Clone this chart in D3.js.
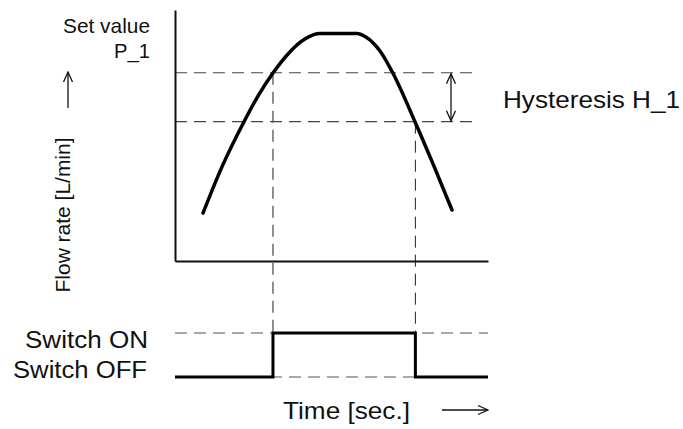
<!DOCTYPE html>
<html>
<head>
<meta charset="utf-8">
<script src="https://cdn.jsdelivr.net/npm/d3@7"></script>
<style>
  body { margin: 0; background: #fff; }
  text { font-family: "Liberation Sans", Arial, sans-serif; fill: #111; }
</style>
</head>
<body>
<div id="chart"></div>
<script>
// flow curve (time in %, flow in %)
var curveTime = [8.95, 15.0, 22.0, 26.5, 31.3, 36.7, 41.5, 46.3, 58.2, 60.7, 63.3, 65.5, 69.6, 76.7, 82.7, 88.5];
var curveFlow = [19.1, 37.5, 55.4, 65.7, 74.9, 83.3, 88.4, 90.6, 90.6, 89.4, 86.9, 83.7, 74.9, 55.4, 37.9, 20.3];

var setValue = 75;      // P_1
var resetValue = 55.5;  // P_1 - H_1

// switch output
var switchTime = [0, 31.3, 76.8, 100];
var switchState = [0, 1, 0, 0];

var W = 683, H = 429;

var svg = d3.select("#chart")
	.append("svg")
	.attr("width", W)
	.attr("height", H);

var x = d3.scaleLinear().domain([0, 100]).range([175, 488]);
var y = d3.scaleLinear().domain([0, 100]).range([261, 10]);
var ySw = d3.scaleLinear().domain([0, 1]).range([377, 333]);

// arrow heads (open V)
var defs = svg.append("defs");
defs.append("marker")
	.attr("id", "vhead")
	.attr("viewBox", "0 0 12 12")
	.attr("refX", 11).attr("refY", 6)
	.attr("markerWidth", 12).attr("markerHeight", 12)
	.attr("markerUnits", "userSpaceOnUse")
	.attr("orient", "auto-start-reverse")
	.append("path")
	.attr("d", "M1,1.5 L11,6 L1,10.5")
	.attr("fill", "none")
	.attr("stroke", "#111")
	.attr("stroke-width", 1.3);

// dashed reference lines
var dash = "12,7";
svg.append("line")
	.attr("x1", x(0)).attr("x2", x(95.2))
	.attr("y1", y(setValue)).attr("y2", y(setValue))
	.attr("stroke", "#444").attr("stroke-width", 1.2)
	.attr("stroke-dasharray", dash);
svg.append("line")
	.attr("x1", x(0)).attr("x2", x(95.2))
	.attr("y1", y(resetValue)).attr("y2", y(resetValue))
	.attr("stroke", "#444").attr("stroke-width", 1.2)
	.attr("stroke-dasharray", dash);
svg.append("line")
	.attr("x1", x(0)).attr("x2", x(100))
	.attr("y1", ySw(1)).attr("y2", ySw(1))
	.attr("stroke", "#555").attr("stroke-width", 1.2)
	.attr("stroke-dasharray", dash);
svg.append("line")
	.attr("x1", x(0)).attr("x2", x(100))
	.attr("y1", ySw(0)).attr("y2", ySw(0))
	.attr("stroke", "#555").attr("stroke-width", 1.2)
	.attr("stroke-dasharray", dash);

// vertical dashed lines at switching times
svg.append("line")
	.attr("x1", x(switchTime[1])).attr("x2", x(switchTime[1]))
	.attr("y1", y(setValue)).attr("y2", ySw(0))
	.attr("stroke", "#555").attr("stroke-width", 1.3)
	.attr("stroke-dasharray", dash);
svg.append("line")
	.attr("x1", x(switchTime[2])).attr("x2", x(switchTime[2]))
	.attr("y1", y(resetValue)).attr("y2", ySw(1))
	.attr("stroke", "#222").attr("stroke-width", 1)
	.attr("stroke-dasharray", dash);

// axes (no ticks)
svg.append("g")
	.attr("transform", "translate(" + x(0) + ",0)")
	.call(d3.axisLeft(y).ticks(0).tickSizeOuter(0))
	.select(".domain").attr("stroke", "#111").attr("stroke-width", 2);
svg.append("g")
	.attr("transform", "translate(0," + y(0) + ")")
	.call(d3.axisBottom(x).ticks(0).tickSizeOuter(0))
	.select(".domain").attr("stroke", "#111").attr("stroke-width", 2);

// flow curve
var flowLine = d3.line()
	.x(function(d, i) { return x(curveTime[i]); })
	.y(function(d, i) { return y(curveFlow[i]); })
	.curve(d3.curveMonotoneX);
svg.append("path")
	.attr("d", flowLine(curveTime))
	.attr("fill", "none")
	.attr("stroke", "#000")
	.attr("stroke-width", 3.5)
	.attr("stroke-linecap", "round")
	.attr("stroke-linejoin", "round");

// switch output
var swLine = d3.line()
	.x(function(d, i) { return x(switchTime[i]); })
	.y(function(d, i) { return ySw(switchState[i]); })
	.curve(d3.curveStepAfter);
svg.append("path")
	.attr("d", swLine(switchTime))
	.attr("fill", "none")
	.attr("stroke", "#000")
	.attr("stroke-width", 3);

// hysteresis double arrow
svg.append("line")
	.attr("x1", 451).attr("x2", 451)
	.attr("y1", y(setValue) + 1).attr("y2", y(resetValue) - 1)
	.attr("stroke", "#111").attr("stroke-width", 1.3)
	.attr("marker-start", "url(#vhead)")
	.attr("marker-end", "url(#vhead)");

// up arrow by y label
svg.append("line")
	.attr("x1", 68).attr("x2", 68)
	.attr("y1", 108).attr("y2", 72)
	.attr("stroke", "#111").attr("stroke-width", 1.3)
	.attr("marker-end", "url(#vhead)");

// right arrow by time label
svg.append("line")
	.attr("x1", 442).attr("x2", 488)
	.attr("y1", 410).attr("y2", 410)
	.attr("stroke", "#111").attr("stroke-width", 1.3)
	.attr("marker-end", "url(#vhead)");

// labels
function label(t, px, py, size, anchor, len) {
	var el = svg.append("text")
		.attr("x", px).attr("y", py)
		.attr("font-size", size)
		.attr("text-anchor", anchor)
		.text(t);
	if (len) el.attr("textLength", len).attr("lengthAdjust", "spacingAndGlyphs");
	return el;
}

label("Set value", 150, 33, 21, "end", 87);
label("P_1", 150, 58, 21, "end", 36);
label("Hysteresis H_1", 503, 108, 24, "start", 177);
label("Switch ON", 148, 348, 23, "end", 123);
label("Switch OFF", 147, 378, 23, "end", 134);
label("Time [sec.]", 283, 419, 24, "start", 127);

svg.append("text")
	.attr("transform", "translate(70,215) rotate(-90)")
	.attr("font-size", 21)
	.attr("text-anchor", "middle")
	.attr("textLength", 155)
	.attr("lengthAdjust", "spacingAndGlyphs")
	.text("Flow rate [L/min]");
</script>
</body>
</html>
